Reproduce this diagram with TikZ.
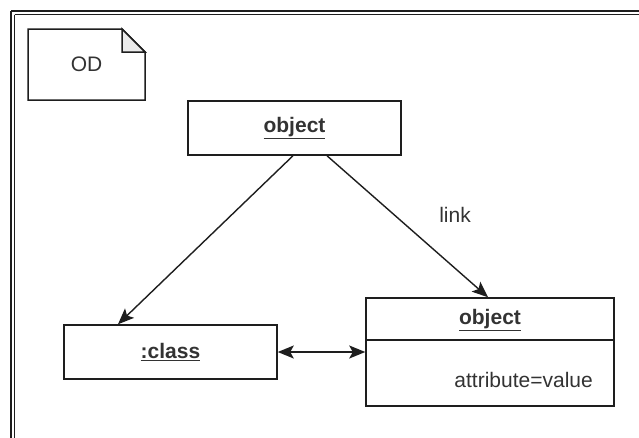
\documentclass[tikz,border=0pt]{standalone}
\usepackage{fontspec}
\setmainfont{Liberation Sans}
\usetikzlibrary{arrows.meta,calc}
\definecolor{txt}{RGB}{51,51,51}
\definecolor{ln}{RGB}{30,30,30}
\definecolor{foldfill}{RGB}{235,235,235}
\begin{document}
\begin{tikzpicture}[x=1pt,y=-1pt,
  box/.style={draw=ln,line width=1.5pt,fill=white,inner sep=0pt},
  lbl/.style={text=txt,inner sep=0pt,font=\fontsize{21}{25}\selectfont},
  blbl/.style={text=txt,inner sep=0pt,font=\fontsize{21}{25}\selectfont\bfseries},
  arr/.style={draw=ln,line width=1.4pt,-{Stealth[length=16pt,width=13pt,inset=3.5pt]}},
  darr/.style={draw=ln,line width=1.4pt,{Stealth[length=16pt,width=13pt,inset=3.5pt]}-{Stealth[length=16pt,width=13pt,inset=3.5pt]}}]
\useasboundingbox (0,0) rectangle (639,437);
\fill[white] (0,0) rectangle (639,437);
% frame
\draw[ln,line width=1.2pt] (11,11) -- (660,11) (11,11) -- (11,460);
\draw[ln,line width=1.2pt] (14.5,14.5) -- (660,14.5) (14.5,14.5) -- (14.5,460);
% note
\draw[ln,line width=1.5pt,fill=white] (28,29) -- (122,29) -- (145,52) -- (145,100) -- (28,100) -- cycle;
\draw[ln,line width=1.5pt,fill=foldfill] (122,29) -- (122,52) -- (145,52) -- cycle;
\node[lbl] (od) at (86.5,64.5) {OD};
% nodes
\node[box,minimum width=213pt,minimum height=54pt] (top) at (294.5,128) {};
\node[blbl] (toplbl) at (top.center) {\underline{object}};
\node[box,minimum width=213pt,minimum height=54pt] (cls) at (170.5,352) {};
\node[blbl] (clslbl) at (cls.center) {\underline{:class}};
\node[box,minimum width=248pt,minimum height=108pt] (obj) at (490,352) {};
\coordinate (divl) at (366,340);
\coordinate (divr) at (614,340);
\draw[ln,line width=1.5pt] (divl) -- (divr);
\node[blbl] (objlbl) at (490,320) {\underline{object}};
\node[lbl,anchor=east] (attr) at (593,380) {attribute=value};
% connectors
\draw[arr] ([xshift=-1.5pt]top.south) -- ([xshift=-52.5pt]cls.north);
\draw[arr] ([xshift=32.5pt]top.south) -- ([xshift=-2pt]obj.north);
\node[lbl] (link) at (455,215) {link};
\draw[darr] (cls.east) -- (cls.east -| obj.west);
\end{tikzpicture}
\end{document}
